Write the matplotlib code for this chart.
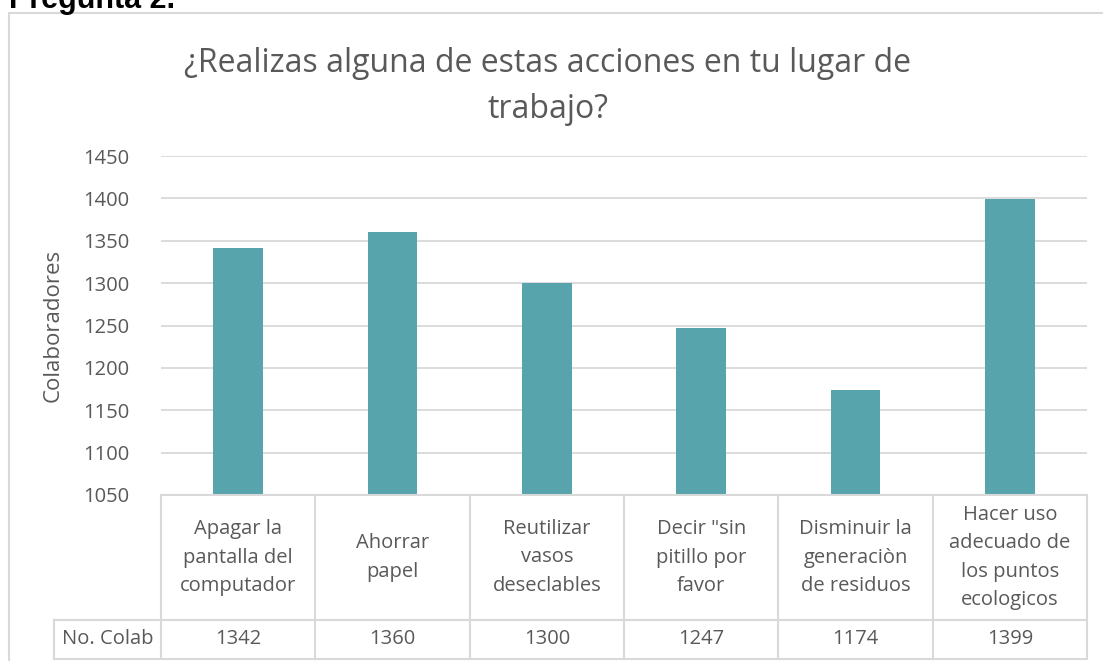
import matplotlib
matplotlib.use("Agg")
import matplotlib.pyplot as plt
from matplotlib.lines import Line2D
from matplotlib.patches import Rectangle
import matplotlib.transforms as mtransforms

categories = ["Apagar la\npantalla del\ncomputador", "Ahorrar\npapel",
              "Reutilizar\nvasos\ndeseclables", "Decir \"sin\npitillo por\nfavor",
              "Disminuir la\ngeneraciòn\nde residuos", "Hacer uso\nadecuado de\nlos puntos\necologicos"]
values = [1342, 1360, 1300, 1247, 1174, 1399]
yticks = [1050, 1100, 1150, 1200, 1250, 1300, 1350, 1400, 1450]
series_name = "No. Colab"
title = "¿Realizas alguna de estas acciones en tu lugar de\ntrabajo?"
ylabel = "Colaboradores"

W, H = 1103, 661
FONT = "Open Sans"
TXT = "#595959"
GRID = "#D9D9D9"
BAR = "#58A4AC"

fig = plt.figure(figsize=(W/100, H/100), dpi=100)
fig.patch.set_facecolor("white")

def fx(px): return px / W
def fy(py): return 1 - py / H

# chart border
fig.add_artist(Rectangle((fx(8.5), fy(700)), fx(1110), fy(12.5) - fy(700), transform=fig.transFigure,
                         fill=False, edgecolor=GRID, lw=1.5))

# heading cut off at top (as in the reference)
fig.text(fx(9), fy(8), "Pregunta 2.", fontsize=22, fontweight="bold", family="Liberation Sans",
         color="black", ha="left", va="baseline")

L, R, T, B = 161, 1087, 156, 495
ax = fig.add_axes([fx(L), fy(B), fx(R) - fx(L), fy(T) - fy(B)])
n = len(categories)
x = list(range(n))
ax.bar(x, values, width=0.32, color=BAR, zorder=3)
ax.set_xlim(-0.5, n - 0.5)
ax.set_ylim(yticks[0], yticks[-1])
ax.set_yticks(yticks)
ax.set_yticklabels([str(v) for v in yticks], family=FONT, fontsize=14.5, color=TXT)
ax.tick_params(axis="y", length=0, pad=23)
ax.set_xticks([])
for s in ax.spines.values():
    s.set_visible(False)
ax.grid(axis="y", color=GRID, lw=1.3, zorder=0)
ax.set_axisbelow(True)
ax.set_ylabel(ylabel, family=FONT, fontsize=16, color=TXT, labelpad=14)

# title
fig.text(fx(548), fy(64), title.split("\n")[0], family=FONT, fontsize=23, color=TXT, ha="center", va="center")
fig.text(fx(548), fy(110), title.split("\n")[1], family=FONT, fontsize=23, color=TXT, ha="center", va="center")

# data table drawn below axes
trans = mtransforms.blended_transform_factory(ax.transData, fig.transFigure)
row1_top, row_split, row_bottom = 495, 620, 659
lkw = dict(color=GRID, lw=1.5, clip_on=False)
fig.add_artist(Line2D([fx(L), fx(R)], [fy(row1_top)] * 2, transform=fig.transFigure, **lkw))
fig.add_artist(Line2D([fx(54), fx(R)], [fy(row_split)] * 2, transform=fig.transFigure, **lkw))
fig.add_artist(Line2D([fx(54), fx(R)], [fy(row_bottom)] * 2, transform=fig.transFigure, **lkw))
for i in range(n + 1):
    ax.add_line(Line2D([i - 0.5, i - 0.5], [fy(row1_top), fy(row_bottom)], transform=trans, **lkw))
fig.add_artist(Line2D([fx(54), fx(54)], [fy(row_split), fy(row_bottom)], transform=fig.transFigure, **lkw))

for i, (c, v) in enumerate(zip(categories, values)):
    ax.text(i, fy((row1_top + row_split) / 2), c, transform=trans, ha="center", va="center",
            family=FONT, fontsize=14.5, color=TXT, linespacing=1.55)
    ax.text(i, fy((row_split + row_bottom) / 2), str(v), transform=trans, ha="center", va="center",
            family=FONT, fontsize=14.5, color=TXT)
fig.text(fx((54 + L) / 2), fy((row_split + row_bottom) / 2), series_name, ha="center", va="center",
         family=FONT, fontsize=14.5, color=TXT)

fig.savefig("out.png", dpi=100, facecolor="white")
